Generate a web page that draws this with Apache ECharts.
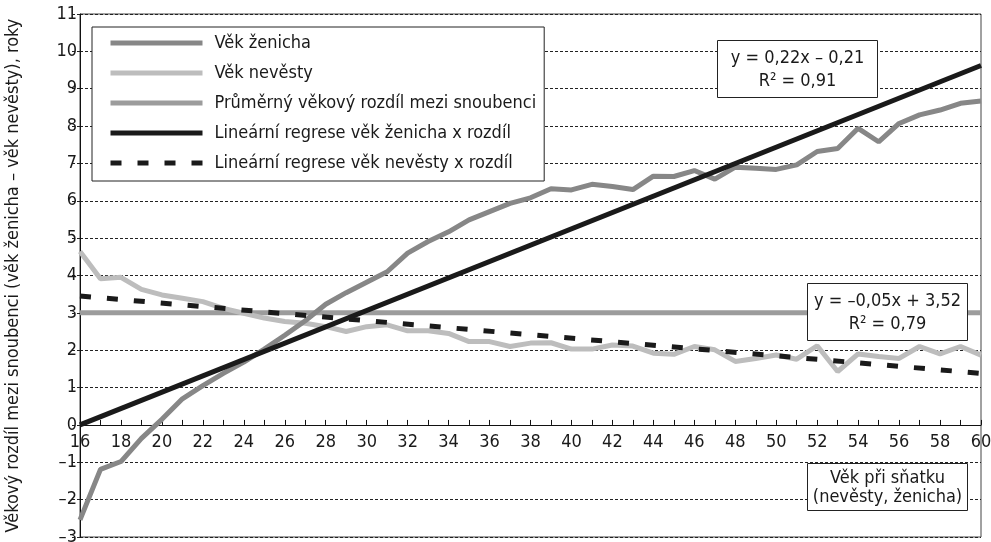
<!DOCTYPE html>
<html>
<head>
<meta charset="utf-8">
<script src="https://cdn.jsdelivr.net/npm/echarts@6/dist/echarts.min.js"></script>
<style>
html,body{margin:0;padding:0;background:#fff;}
#chart{width:991px;height:542px;}
</style>
</head>
<body>
<div id="chart"></div>
<script>
// ---- data ----
var ages = [16,17,18,19,20,21,22,23,24,25,26,27,28,29,30,31,32,33,34,35,36,37,38,39,40,41,42,43,44,45,46,47,48,49,50,51,52,53,54,55,56,57,58,59,60];
var groomDiff = [-2.54,-1.19,-0.98,-0.36,0.15,0.70,1.05,1.38,1.68,2.03,2.40,2.79,3.23,3.54,3.82,4.10,4.60,4.91,5.17,5.49,5.71,5.93,6.08,6.32,6.29,6.44,6.38,6.30,6.66,6.65,6.81,6.58,6.90,6.87,6.84,6.96,7.32,7.40,7.94,7.58,8.07,8.30,8.43,8.61,8.67];
var brideDiff = [4.64,3.91,3.95,3.63,3.48,3.39,3.30,3.12,2.99,2.86,2.77,2.72,2.63,2.50,2.63,2.68,2.52,2.52,2.45,2.23,2.23,2.10,2.19,2.20,2.03,2.03,2.14,2.11,1.92,1.89,2.10,2.01,1.70,1.78,1.87,1.76,2.12,1.43,1.90,1.83,1.78,2.10,1.90,2.10,1.87];
var avgAge = [16, 60];
var avgDiff = [3.0, 3.0];
var regGroomAge = [16, 60];
var regGroomVal = [0.0, 9.62];
var regBrideAge = [16, 60];
var regBrideVal = [3.45, 1.38];
var seriesNames = ['Věk ženicha','Věk nevěsty','Průměrný věkový rozdíl mezi snoubenci','Lineární regrese věk ženicha x rozdíl','Lineární regrese věk nevěsty x rozdíl'];
var eqGroom = 'y = 0,22x – 0,21\nR² = 0,91';
var eqBride = 'y = –0,05x + 3,52\nR² = 0,79';
var xName = 'Věk při sňatku\n(nevěsty, ženicha)';
var yName = 'Věkový rozdíl mezi snoubenci (věk ženicha – věk nevěsty), roky';
var yMin = -3, yMax = 11;

function zip(a, b){ return a.map(function(v,i){ return [v, b[i]]; }); }

var FONT = '"Liberation Sans Narrow","Arial Narrow","DejaVu Sans Condensed",sans-serif';
var GRID_TOP = 14, GRID_BOTTOM = 5, H = 542;
var plotH = H - GRID_TOP - GRID_BOTTOM;
// place x axis at the y = 0 line (offset from the bottom edge of the grid)
var xAxisOffset = -plotH * (0 - yMin) / (yMax - yMin);

var chart = echarts.init(document.getElementById('chart'), null, {renderer:'canvas'});

var option = {
  animation: false,
  backgroundColor: '#fff',
  textStyle: {fontFamily: FONT},
  grid: {left: 80, right: 10, top: GRID_TOP, bottom: GRID_BOTTOM, show: true, borderColor: '#444', borderWidth: 1,
         containLabel: false, outerBoundsMode: 'none'},
  legend: {
    data: seriesNames,
    orient: 'vertical',
    left: 92, top: 27, z: 20,
    padding: [6, 8, 8, 16],
    itemWidth: 92, itemHeight: 14, itemGap: 10,
    backgroundColor: '#fff',
    borderColor: '#222', borderWidth: 1,
    lineStyle: {width: 5},
    itemStyle: {opacity: 0},
    textStyle: {fontFamily: FONT, fontSize: 18, color: '#1a1a1a', lineHeight: 20, padding: [0,0,0,7]}
  },
  xAxis: {
    type: 'value', min: 16, max: 60, interval: 1,
    position: 'bottom', offset: xAxisOffset,
    axisLine: {onZero: false, lineStyle: {color: '#111', width: 1}},
    axisTick: {show: true, inside: true, length: 5, lineStyle: {color: '#111'}},
    axisLabel: {fontFamily: FONT, fontSize: 18, color: '#1a1a1a', margin: 8,
      formatter: function(v){ return v % 2 === 0 ? String(v) : ''; }},
    splitLine: {show: false}
  },
  yAxis: {
    type: 'value', min: yMin, max: yMax, interval: 1,
    name: yName, nameLocation: 'middle', nameGap: 58,
    nameTextStyle: {fontFamily: FONT, fontSize: 18, color: '#1a1a1a'},
    axisLine: {show: true, onZero: false, lineStyle: {color: '#111', width: 1}},
    axisTick: {show: true, length: 9, lineStyle: {color: '#222', type: [3,2]}},
    axisLabel: {fontFamily: FONT, fontSize: 18, color: '#1a1a1a', margin: 3,
      formatter: function(v){ return String(v).replace('-', '–'); }},
    splitLine: {show: true, lineStyle: {color: '#222', width: 1, type: [3,2]}}
  },
  series: [
    {name: seriesNames[0], type: 'line', data: zip(ages, groomDiff), symbol: 'none', z: 4,
     lineStyle: {color: '#878787', width: 5}, itemStyle: {color: '#878787'}},
    {name: seriesNames[1], type: 'line', data: zip(ages, brideDiff), symbol: 'none', z: 3,
     lineStyle: {color: '#bdbdbd', width: 5}, itemStyle: {color: '#bdbdbd'}},
    {name: seriesNames[2], type: 'line', data: zip(avgAge, avgDiff), symbol: 'none', z: 2,
     lineStyle: {color: '#9c9c9c', width: 5}, itemStyle: {color: '#9c9c9c'}},
    {name: seriesNames[3], type: 'line', data: zip(regGroomAge, regGroomVal), symbol: 'none', z: 6,
     lineStyle: {color: '#1a1a1a', width: 5}, itemStyle: {color: '#1a1a1a'}},
    {name: seriesNames[4], type: 'line', data: zip(regBrideAge, regBrideVal), symbol: 'none', z: 5,
     lineStyle: {color: '#1a1a1a', width: 5, type: [11, 16]}, itemStyle: {color: '#1a1a1a'}}
  ],
  graphic: [
    {type: 'group', left: 717, top: 40, z: 100, children: [
      {type: 'rect', z: 100, shape: {x: 0, y: 0, width: 160, height: 57}, style: {fill: '#fff', stroke: '#222', lineWidth: 1}},
      {type: 'text', z: 101, x: 80, y: 29, style: {text: eqGroom, font: '18px ' + FONT, fill: '#1a1a1a', align: 'center', verticalAlign: 'middle', lineHeight: 23}}
    ]},
    {type: 'group', left: 807, top: 283, z: 100, children: [
      {type: 'rect', z: 100, shape: {x: 0, y: 0, width: 160, height: 57}, style: {fill: '#fff', stroke: '#222', lineWidth: 1}},
      {type: 'text', z: 101, x: 80, y: 29, style: {text: eqBride, font: '18px ' + FONT, fill: '#1a1a1a', align: 'center', verticalAlign: 'middle', lineHeight: 23}}
    ]},
    {type: 'group', left: 807, top: 463, z: 100, children: [
      {type: 'rect', z: 100, shape: {x: 0, y: 0, width: 160, height: 47}, style: {fill: '#fff', stroke: '#222', lineWidth: 1}},
      {type: 'text', z: 101, x: 80, y: 24, style: {text: xName, font: '18px ' + FONT, fill: '#1a1a1a', align: 'center', verticalAlign: 'middle', lineHeight: 19}}
    ]}
  ]
};
chart.setOption(option);
</script>
</body>
</html>
